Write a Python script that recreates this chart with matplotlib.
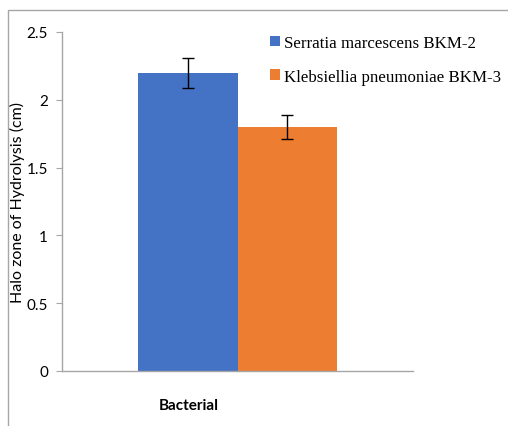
import matplotlib.pyplot as plt
from matplotlib.patches import Rectangle

# data
categories = ['Bacterial']
series = ['Serratia marcescens BKM-2', 'Klebsiellia pneumoniae BKM-3']
values = [2.2, 1.8]
errors = [0.11, 0.09]
colors = ['#4472C4', '#ED7D31']
yticks = [0, 0.5, 1, 1.5, 2, 2.5]

plt.rcParams['font.family'] = ['Lato', 'DejaVu Sans']

fig = plt.figure(figsize=(5.08, 4.27), dpi=100)
ax = fig.add_axes([62 / 508, 1 - 372 / 427, 351 / 508, 339 / 427])

# light grey frame round the whole chart (open at right/bottom like the crop)
fig.add_artist(Rectangle((8 / 508, -0.1), 1.2, 1 - 11 / 427 + 0.1,
                         transform=fig.transFigure, fill=False,
                         edgecolor='#a6a6a6', linewidth=1.0))

for i, (name, v, e, c) in enumerate(zip(series, values, errors, colors)):
    x = -0.5 + i
    ax.bar(x, v, width=1.0, color=c, label=name, zorder=2)
    ax.errorbar(x, v, yerr=e, fmt='none', ecolor='black', elinewidth=1.0,
                capsize=4.5, capthick=1.0, zorder=3)

ax.set_xlim(-1.76, 1.76)
ax.set_ylim(0, 2.5)
ax.set_yticks(yticks)
ax.set_yticklabels(['0', '0.5', '1', '1.5', '2', '2.5'])
ax.set_xticks([])
ax.tick_params(axis='y', direction='out', length=4, color='#a6a6a6',
               labelsize=11, pad=6)

for s in ['top', 'right']:
    ax.spines[s].set_visible(False)
for s in ['left', 'bottom']:
    ax.spines[s].set_color('#a6a6a6')
    ax.spines[s].set_linewidth(1.0)

ax.set_ylabel('Halo zone of Hydrolysis (cm)', fontsize=11.5)
ax.yaxis.set_label_coords(-0.105, 0.5)
ax.set_xlabel('Bacterial', fontsize=11, fontweight='bold')
ax.xaxis.set_label_coords((189 - 62) / 351, -0.08)

fig.legend(loc='upper left', bbox_to_anchor=(270 / 508, 1 - 36 / 427),
           frameon=False, prop={'family': 'Liberation Serif', 'size': 12.2},
           handlelength=0.6, handleheight=0.6, handletextpad=0.2,
           labelspacing=1.05, borderpad=0, borderaxespad=0)

fig.savefig('out.png', dpi=100)
